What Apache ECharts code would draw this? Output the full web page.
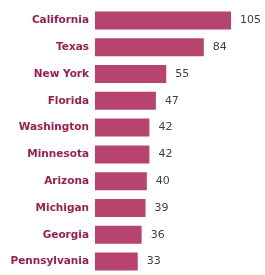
<!DOCTYPE html>
<html>
<head>
<meta charset="utf-8">
<script src="https://cdn.jsdelivr.net/npm/echarts@6/dist/echarts.min.js"></script>
<style>
  html, body { margin: 0; padding: 0; background: #fff; }
  #chart { width: 265px; height: 275px; }
</style>
</head>
<body>
<div id="chart"></div>
<script>
const states = ['California', 'Texas', 'New York', 'Florida', 'Washington',
  'Minnesota', 'Arizona', 'Michigan', 'Georgia', 'Pennsylvania'];
const counts = [105, 84, 55, 47, 42, 42, 40, 39, 36, 33];

const chart = echarts.init(document.getElementById('chart'));
const option = {
  animation: false,
  grid: {
    left: 95,
    top: 7,
    width: 136,
    height: 270
  },
  xAxis: {
    type: 'value',
    min: 0,
    max: 105,
    show: false
  },
  yAxis: {
    type: 'category',
    inverse: true,
    data: states,
    axisLine: { show: false },
    axisTick: { show: false },
    axisLabel: {
      color: '#9a1f4f',
      fontFamily: 'DejaVu Sans',
      fontWeight: 'bold',
      fontSize: 10.5,
      margin: 6
    }
  },
  series: [{
    type: 'bar',
    data: counts,
    barWidth: 18,
    itemStyle: { color: '#b6446f' },
    label: {
      show: true,
      position: 'right',
      distance: 9,
      color: '#3f3f3f',
      fontFamily: 'DejaVu Sans',
      fontSize: 11
    }
  }]
};
chart.setOption(option);
</script>
</body>
</html>
